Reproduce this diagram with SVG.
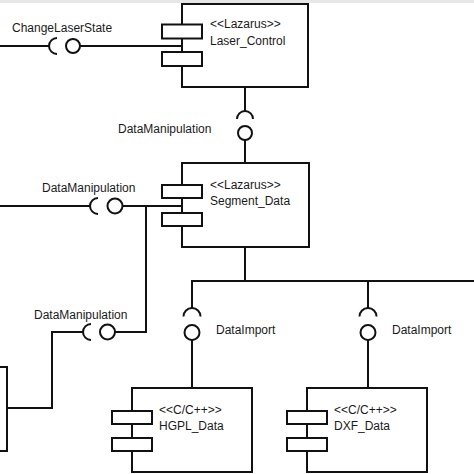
<svg xmlns="http://www.w3.org/2000/svg" width="474" height="474" viewBox="0 0 474 474">
<style>
.box{fill:#fff;stroke:#111;stroke-width:2}
.port{fill:#fff;stroke:#111;stroke-width:2}
.ln{fill:none;stroke:#111;stroke-width:2}
.ball{fill:#fff;stroke:#111;stroke-width:2}
text{font-family:"Liberation Sans",Arial,sans-serif;font-size:12px;fill:#1a1a1a}
</style>
<rect x="0" y="0" width="474" height="474" fill="#fff"/>
<rect x="0" y="0" width="474" height="3" fill="#e6e6e6"/>
<g id="connectors">
<path class="ln" d="M0,46 H49"/>
<path class="ln" d="M57,38 A8,8 0 0 0 57,54"/>
<circle class="ball" cx="73" cy="46" r="7"/>
<path class="ln" d="M80,46 H182"/>
<path class="ln" d="M245,87 V111"/>
<path class="ln" d="M237,119 A8,8 0 0 1 253,119"/>
<circle class="ball" cx="245" cy="133" r="7"/>
<path class="ln" d="M245,140 V163"/>
<path class="ln" d="M0,206 H90"/>
<path class="ln" d="M98,198 A8,8 0 0 0 98,214"/>
<circle class="ball" cx="115" cy="206" r="7.5"/>
<path class="ln" d="M122.5,206 H182"/>
<path class="ln" d="M146,206 V332 H115"/>
<circle class="ball" cx="107.5" cy="332" r="7.5"/>
<path class="ln" d="M91,324 A8,8 0 0 0 91,340"/>
<path class="ln" d="M83,332 H52 V408 H7"/>
<path class="ln" d="M245,247 V281"/>
<path class="ln" d="M192,308 V281 H474"/>
<path class="ln" d="M368,281 V308"/>
<path class="ln" d="M183.5,316.5 A8.5,8.5 0 0 1 200.5,316.5"/>
<circle class="ball" cx="192" cy="332.5" r="7.5"/>
<path class="ln" d="M192,340 V388"/>
<path class="ln" d="M359.5,316.5 A8.5,8.5 0 0 1 376.5,316.5"/>
<circle class="ball" cx="368" cy="332.5" r="7.5"/>
<path class="ln" d="M368,340 V388"/>
</g>
<g id="Laser_Control">
<rect class="box" x="182" y="4" width="126" height="83"/>
<rect class="port" x="162" y="24.5" width="40" height="14"/>
<rect class="port" x="162" y="52" width="40" height="14"/>
<text x="210" y="28">&lt;&lt;Lazarus&gt;&gt;</text>
<text x="210" y="45">Laser_Control</text>
</g>
<g id="Segment_Data">
<rect class="box" x="182" y="163" width="127" height="84"/>
<rect class="port" x="162" y="185" width="40" height="13"/>
<rect class="port" x="162" y="213" width="40" height="13"/>
<text x="210" y="189">&lt;&lt;Lazarus&gt;&gt;</text>
<text x="210" y="205">Segment_Data</text>
</g>
<g id="Left_Component">
<rect class="box" x="-10" y="367" width="17" height="84"/>
</g>
<g id="HGPL_Data">
<rect class="box" x="132" y="388" width="120" height="84"/>
<rect class="port" x="112" y="411" width="40" height="13"/>
<rect class="port" x="112" y="438" width="40" height="13"/>
<text x="159" y="414">&lt;&lt;C/C++&gt;&gt;</text>
<text x="159" y="430">HGPL_Data</text>
</g>
<g id="DXF_Data">
<rect class="box" x="307" y="388" width="120" height="84"/>
<rect class="port" x="287" y="411" width="40" height="13"/>
<rect class="port" x="287" y="438" width="40" height="13"/>
<text x="334" y="414">&lt;&lt;C/C++&gt;&gt;</text>
<text x="334" y="430">DXF_Data</text>
</g>
<g id="labels">
<text x="12" y="32">ChangeLaserState</text>
<text x="118" y="133">DataManipulation</text>
<text x="42" y="192">DataManipulation</text>
<text x="34" y="319">DataManipulation</text>
<text x="216" y="334">DataImport</text>
<text x="392" y="334">DataImport</text>
</g>
</svg>
